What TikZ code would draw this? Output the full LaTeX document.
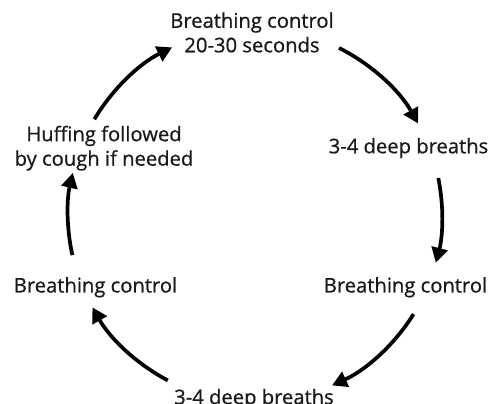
\documentclass[tikz,border=0pt]{standalone}
\usepackage{fontspec}
\setmainfont{Open Sans}
\newfontfamily\lblfont{Open Sans}[FakeBold=0.7]
\usetikzlibrary{arrows.meta,calc}
\begin{document}
\begin{tikzpicture}[x=1pt,y=1pt,
  lbl/.style={font=\lblfont\fontsize{20.2}{24.5}\selectfont, inner sep=0pt, anchor=base, align=center, text=black!90},
  cyc/.style={line width=3.7pt, -{Triangle[length=15pt,width=16pt]}}]
\useasboundingbox (0,0) rectangle (491,404);
\coordinate (O) at (255,189);
\def\R{187pt}
% labels
\node[lbl] (top) at (252,351.7) {Breathing control\\20-30 seconds};
\node[lbl] (rdeep) at (408.5,250.7) {3-4 deep breaths};
\node[lbl] (huff) at (104,238.3) {Huffing followed\\by cough if needed};
\node[lbl] (rbc) at (405.5,111.5) {Breathing control};
\node[lbl] (lbc) at (95.5,111.5) {Breathing control};
\node[lbl] (bdeep) at (254,-0.2) {3-4 deep breaths};
% arrow start points
\coordinate (s1) at ($(O)+(63.3:\R)$);
\coordinate (s2) at ($(O)+(11.4:\R)$);
\coordinate (s3) at ($(O)+(-32:\R)$);
\coordinate (s4) at ($(O)+(-117.8:\R)$);
\coordinate (s5) at ($(O)+(-167.6:\R)$);
\coordinate (s6) at ($(O)+(149.2:\R)$);
\draw[cyc] (s1) arc[start angle=63.3, end angle=29.3, radius=\R];
\draw[cyc] (s2) arc[start angle=11.4, end angle=-14.8, radius=\R];
\draw[cyc] (s3) arc[start angle=-32, end angle=-65.7, radius=\R];
\draw[cyc] (s4) arc[start angle=-117.8, end angle=-150.4, radius=\R];
\draw[cyc] (s5) arc[start angle=-167.6, end angle=-193, radius=\R];
\draw[cyc] (s6) arc[start angle=149.2, end angle=116.3, radius=\R];
\end{tikzpicture}
\end{document}
